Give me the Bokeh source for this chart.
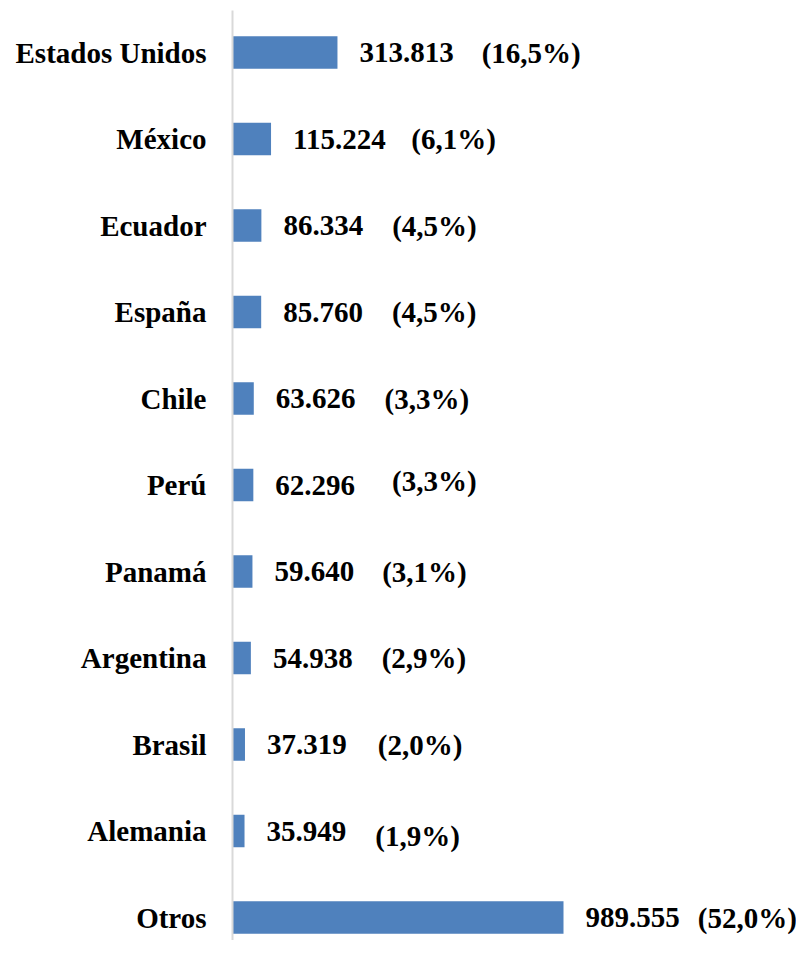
from bokeh.plotting import figure
from bokeh.models import ColumnDataSource, LabelSet, Range1d, FixedTicker
from bokeh.core.properties import value
from bokeh.embed import file_html
from bokeh.resources import INLINE

# ---- data ----
countries = ["Estados Unidos", "México", "Ecuador", "España", "Chile", "Perú",
             "Panamá", "Argentina", "Brasil", "Alemania", "Otros"]
amounts = [313813, 115224, 86334, 85760, 63626, 62296, 59640, 54938, 37319, 35949, 989555]
shares = ["(16,5%)", "(6,1%)", "(4,5%)", "(4,5%)", "(3,3%)", "(3,3%)",
          "(3,1%)", "(2,9%)", "(2,0%)", "(1,9%)", "(52,0%)"]

# ---- styling helpers (label nudges in screen px) ----
FONT = "Liberation Serif"
FSIZE = 29
pct_dx = [-1, -5, 0, 0, 0, 8, -1, 0, 2, 0, -11]
pct_dy = [0, 0, 0, 0, 0, 4, 0, 0, 0, -5, 0]

pos = list(range(len(countries)))
val_text = [f"{v:,}".replace(",", ".") for v in amounts]
digit_w = 0.5 * FSIZE
val_w = [(len(t) - 1) * digit_w + 0.25 * FSIZE for t in val_text]
val_off = 22
pct_off = [val_off + w + 29 + d for w, d in zip(val_w, pct_dx)]

src = ColumnDataSource(dict(
    y=pos, amount=amounts, vtext=val_text, ptext=shares,
    pct_off=pct_off, pct_dy=pct_dy,
))

W, H = 796, 940
left_border = 232
top_border = 10
frame_w = W - left_border
px_per_unit = 331.0 / 989555.0
x_end = frame_w / px_per_unit

row_px = 86.5
top_pad = 42.0   # px from frame top to first row centre
frame_h = H - top_border
y_top = -top_pad / row_px
y_bot = y_top + frame_h / row_px

p = figure(width=W, height=H, output_backend="svg", toolbar_location=None,
           x_range=Range1d(0, x_end), y_range=Range1d(y_bot, y_top),
           x_axis_location=None, min_border_left=left_border,
           min_border_right=0, min_border_top=top_border, min_border_bottom=0)
p.outline_line_color = None
p.grid.visible = False
p.background_fill_color = "white"
p.border_fill_color = "white"

p.hbar(y="y", left=0, right="amount", height=0.376, source=src,
       fill_color="#4f81bd", line_color=None)

yax = p.yaxis[0]
yax.ticker = FixedTicker(ticks=pos)
yax.major_label_overrides = {i: c for i, c in zip(pos, countries)}
yax.axis_line_color = "#d9d9d9"
yax.axis_line_width = 2
yax.major_tick_line_color = None
yax.minor_tick_line_color = None
yax.major_tick_out = 0
yax.major_tick_in = 0
yax.minor_tick_out = 0
yax.major_label_standoff = 26
yax.major_label_text_font = FONT
yax.major_label_text_font_style = "bold"
yax.major_label_text_font_size = f"{FSIZE}px"
yax.major_label_text_color = "black"

vals = LabelSet(x="amount", y="y", text="vtext", source=src, x_offset=val_off,
                text_font=value(FONT), text_font_style="bold",
                text_font_size=value(f"{FSIZE}px"), text_color="black",
                text_baseline="middle", text_align="left")
pcts = LabelSet(x="amount", y="y", text="ptext", source=src, x_offset="pct_off",
                y_offset="pct_dy",
                text_font=value(FONT), text_font_style="bold",
                text_font_size=value(f"{FSIZE}px"), text_color="black",
                text_baseline="middle", text_align="left")
p.add_layout(vals)
p.add_layout(pcts)

open("out.html", "w").write(file_html(p, INLINE))
